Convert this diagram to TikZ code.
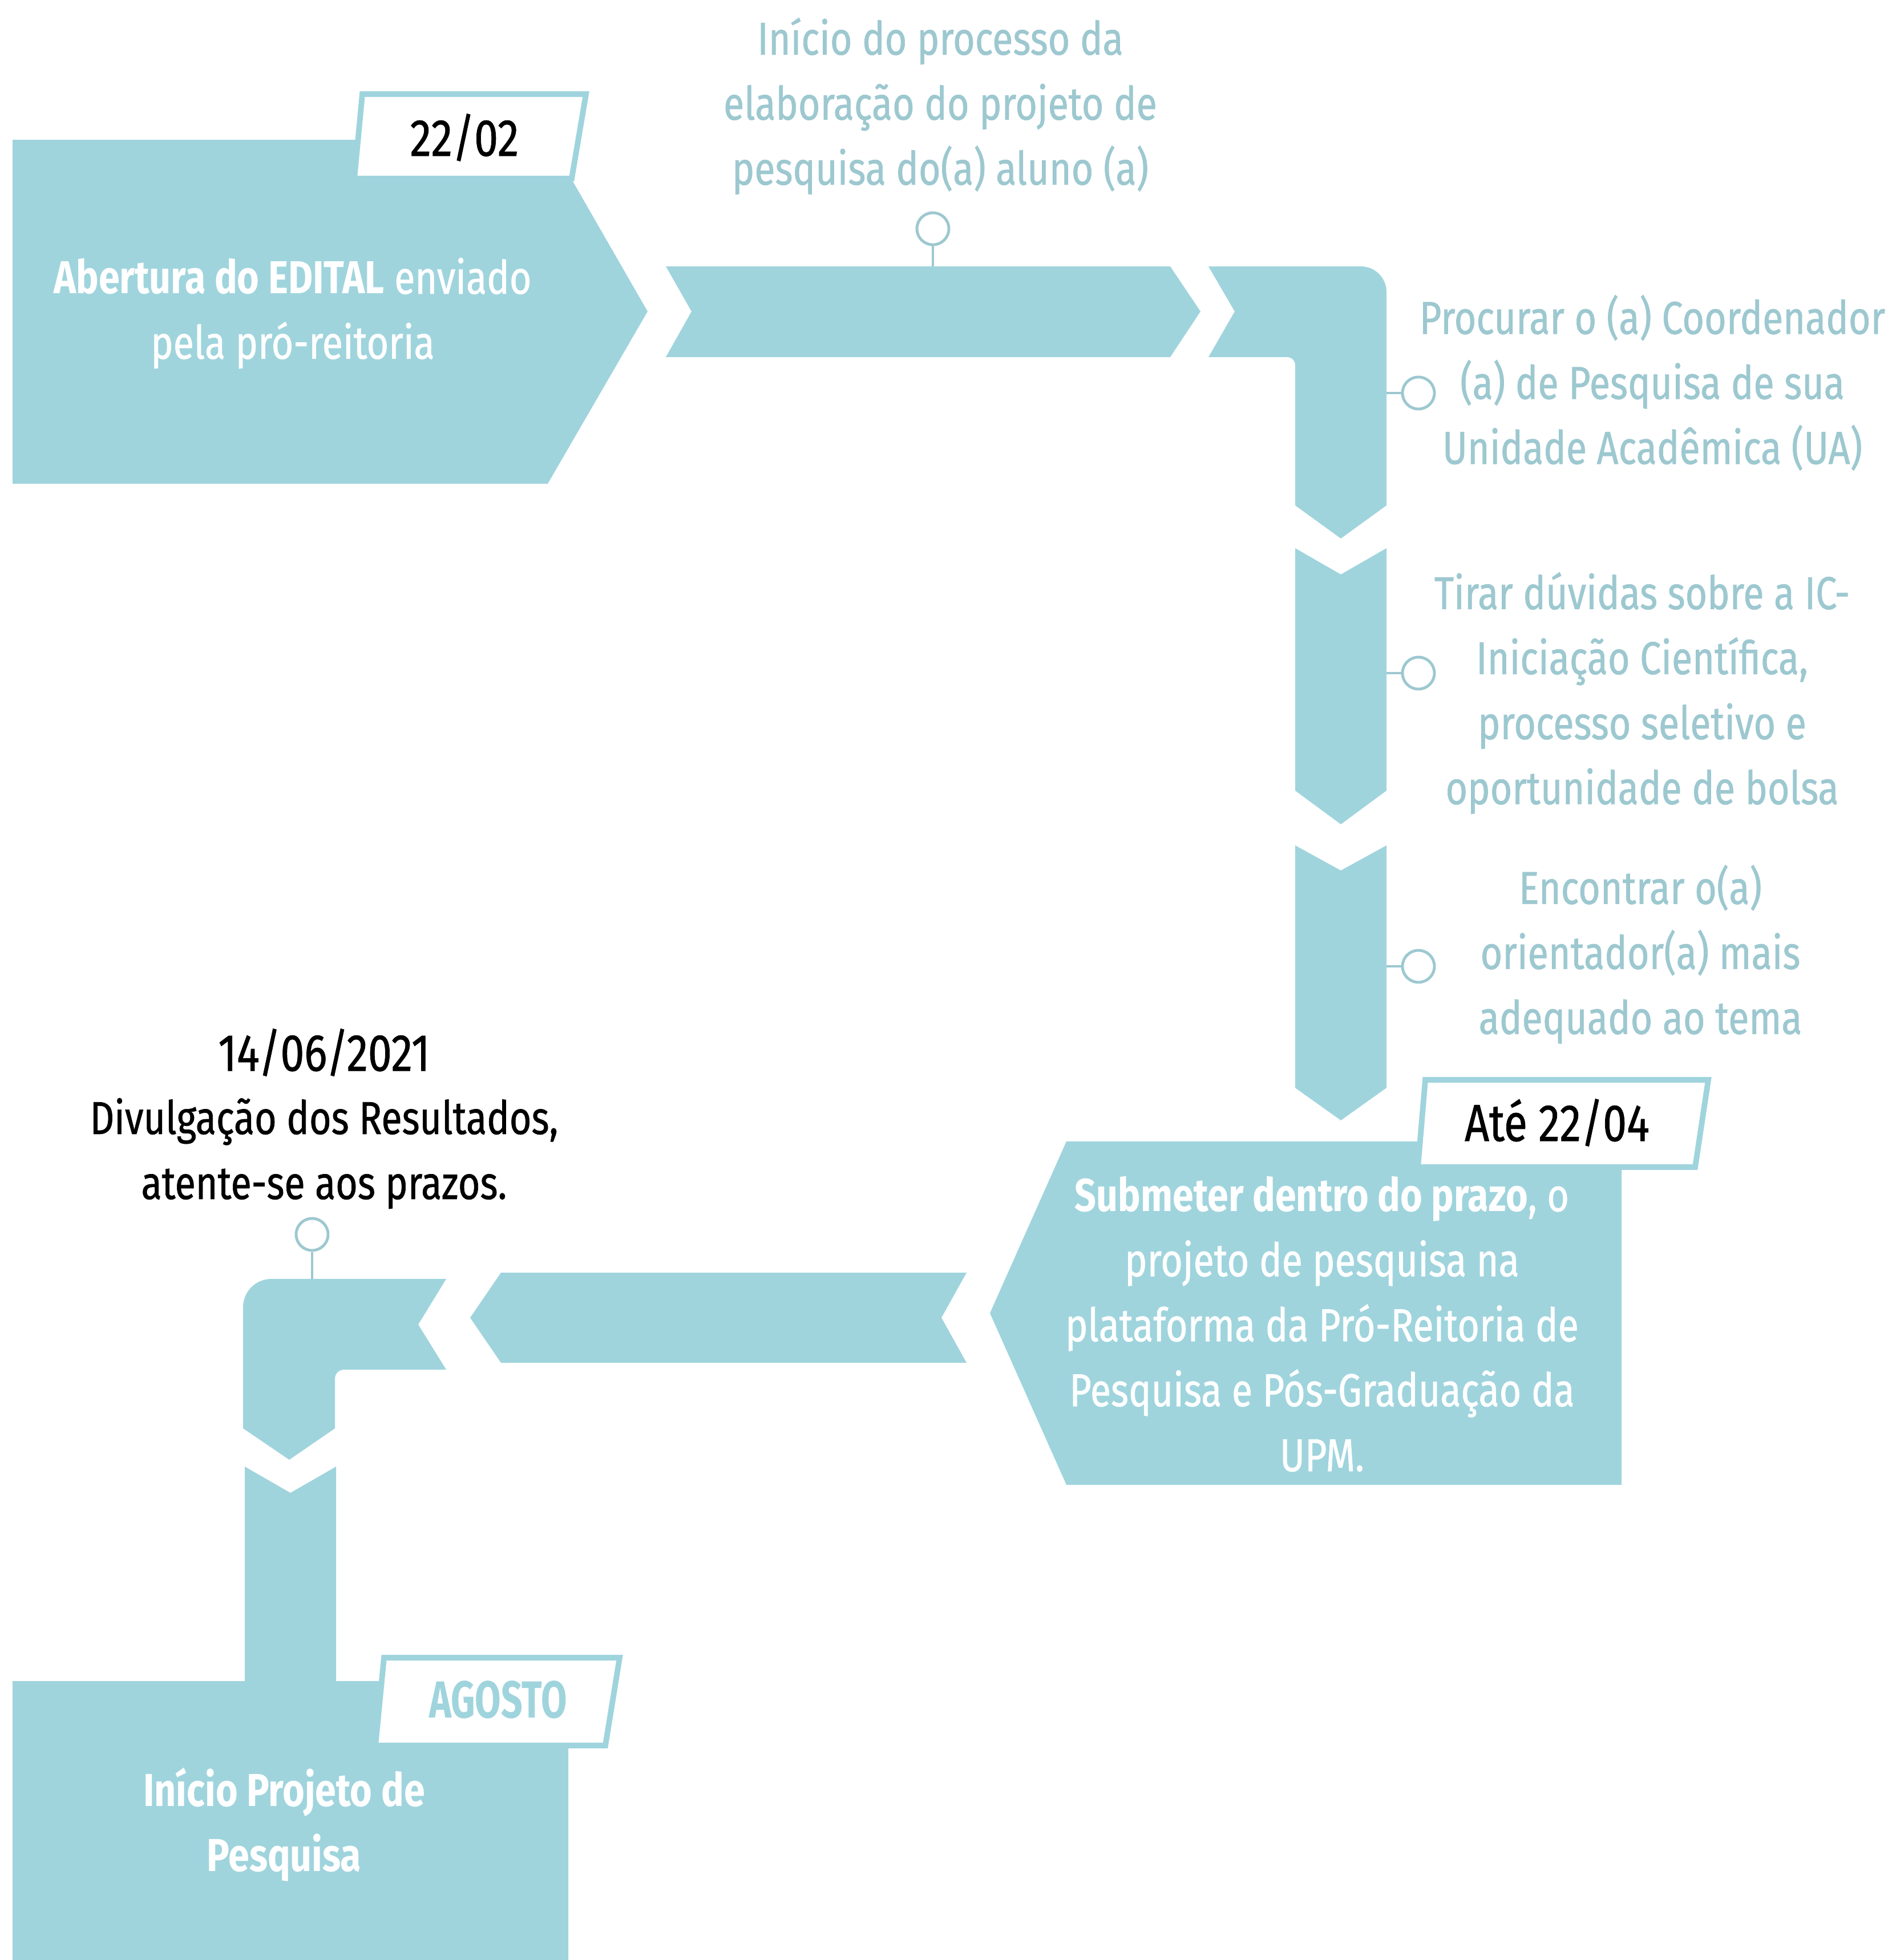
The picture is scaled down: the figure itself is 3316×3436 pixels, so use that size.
\documentclass[tikz,border=0pt]{standalone}
\usepackage{fontspec}
\setmainfont{Fira Sans}[FakeStretch=0.82,UprightFeatures={FakeBold=0.8}]
\definecolor{tl}{HTML}{9FD4DD}
\definecolor{tx}{HTML}{9DC8D0}
\begin{document}
\begin{tikzpicture}[x=0.01cm,y=-0.01cm,
  shp/.style={fill=tl},
  lbl/.style={fill=white,draw=tl,line width=2.8pt,line join=miter},
  body/.style={align=center,font=\fontsize{23}{32.4}\selectfont,inner sep=0pt},
  datef/.style={align=center,font=\fontsize{26}{32}\selectfont,inner sep=0pt},
  dot/.style={circle,draw=tx,fill=white,line width=1.4pt,minimum size=0.56cm,inner sep=0pt},
  con/.style={draw=tx,line width=1.1pt}]
\useasboundingbox (0,0) rectangle (3316,3436);
% box 1
\fill[shp] (22,245) -- (962,245) -- (1135,546) -- (960,848) -- (22,848) -- cycle;
% chevron 2
\fill[shp] (1167,467) -- (2051,467) -- (2104,546) -- (2051,626) -- (1167,626) -- (1212,546) -- cycle;
% L shape 3
\fill[shp] (2118,467) -- (2385,467) .. controls (2410,467) and (2430,487) .. (2430,512) -- (2430,886) -- (2350,944) -- (2270,886) -- (2270,641) .. controls (2270,632) and (2264,626) .. (2255,626) -- (2118,626) -- (2164,546) -- cycle;
% chevron 4
\fill[shp] (2270,961) -- (2350,1007) -- (2430,961) -- (2430,1386) -- (2350,1445) -- (2270,1386) -- cycle;
% chevron 5
\fill[shp] (2270,1482) -- (2350,1526) -- (2430,1482) -- (2430,1907) -- (2350,1964) -- (2270,1907) -- cycle;
% box 6
\fill[shp] (1869,2001) -- (2842,2001) -- (2842,2603) -- (1869,2603) -- (1735,2302) -- cycle;
% chevron 7
\fill[shp] (878,2231) -- (1694,2231) -- (1650,2310) -- (1694,2389) -- (878,2389) -- (824,2310) -- cycle;
% L shape 8
\fill[shp] (782,2242) -- (733,2322) -- (782,2401) -- (603,2401) .. controls (594,2401) and (587,2408) .. (587,2417) -- (587,2504) -- (507,2559) -- (426,2504) -- (426,2292) .. controls (426,2264) and (448,2242) .. (476,2242) -- cycle;
% chevron 9 + box 10
\fill[shp] (429,2571) -- (509,2617) -- (589,2571) -- (589,2947) -- (996,2947) -- (996,3436) -- (22,3436) -- (22,2947) -- (429,2947) -- cycle;
% labels
\draw[lbl] (635,165) -- (1027,165) -- (1002,313) -- (621,313) -- cycle;
\node[datef] (d1) at (814,241) {22/02};
\draw[lbl] (2498,1893) -- (2994,1893) -- (2971,2046) -- (2485,2046) -- cycle;
\node[datef] (d2) at (2729,1968) {Até 22/04};
\draw[lbl] (673,2906) -- (1086,2906) -- (1061,3060) -- (658,3060) -- cycle;
\node[datef,text=tl,font=\fontsize{26}{32}\selectfont\bfseries] (d3) at (873,2980) {\scalebox{0.88}[1]{AGOSTO}};
% texts in boxes
\node[body,text=white] (t1) at (513,549) {\textbf{Abertura do EDITAL} enviado\\pela pró-reitoria};
\node[body,text=white] (t6) at (2317,2321) {\textbf{Submeter dentro do prazo}, o\\projeto de pesquisa na\\plataforma da Pró-Reitoria de\\Pesquisa e Pós-Graduação da\\UPM.};
\node[body,text=white,font=\fontsize{23}{32.4}\selectfont\bfseries] (t10) at (498,3199) {Início Projeto de\\Pesquisa};
% side texts
\node[body,text=tx] (s0) at (1648,186) {Início do processo da\\elaboração do projeto de\\pesquisa do(a) aluno (a)};
\node[body,text=tx] (s1) at (2896,671) {Procurar o (a) Coordenador\\(a) de Pesquisa de sua\\Unidade Acadêmica (UA)};
\node[body,text=tx] (s2) at (2878,1215) {Tirar dúvidas sobre a IC-\\Iniciação Científica,\\processo seletivo e\\oportunidade de bolsa};
\node[body,text=tx] (s3) at (2875,1673) {Encontrar o(a)\\orientador(a) mais\\adequado ao tema};
\node[datef] (s4d) at (568,1845) {14/06/2021};
\node[body] (s4) at (568,2022) {Divulgação dos Resultados,\\atente-se aos prazos.};
% connectors
\node[dot] (c0) at (1635,401) {};
\coordinate (e0) at (1635,467);
\draw[con] (c0.south) -- (e0);
\node[dot] (c1) at (2486,689) {};
\coordinate (e1) at (2430,689);
\draw[con] (c1.west) -- (e1);
\node[dot] (c2) at (2486,1180) {};
\coordinate (e2) at (2430,1180);
\draw[con] (c2.west) -- (e2);
\node[dot] (c3) at (2486,1694) {};
\coordinate (e3) at (2430,1694);
\draw[con] (c3.west) -- (e3);
\node[dot] (c4) at (547,2164) {};
\coordinate (e4) at (547,2242);
\draw[con] (c4.south) -- (e4);
\end{tikzpicture}
\end{document}
